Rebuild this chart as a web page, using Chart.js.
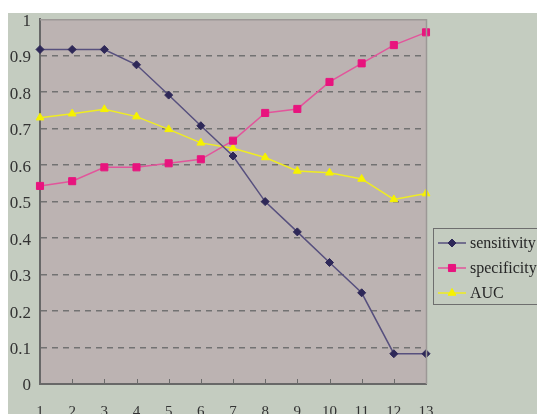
<!DOCTYPE html>
<html>
<head>
<meta charset="utf-8">
<script src="https://cdn.jsdelivr.net/npm/chart.js@4/dist/chart.umd.min.js"></script>
<style>
  html, body { margin: 0; padding: 0; background: #ffffff; }
  #wrap { width: 537px; height: 414px; position: relative; overflow: hidden; }
</style>
</head>
<body>
<div id="wrap"><canvas id="c" width="537" height="414"></canvas></div>
<script>
// Thresholds 1..13 and the three measures at each threshold
const categories = ['1','2','3','4','5','6','7','8','9','10','11','12','13'];
const sensitivity = [0.917, 0.917, 0.917, 0.875, 0.792, 0.708, 0.625, 0.500, 0.417, 0.333, 0.250, 0.083, 0.083];
const specificity = [0.543, 0.556, 0.594, 0.594, 0.605, 0.616, 0.667, 0.743, 0.754, 0.828, 0.879, 0.929, 0.964];
const auc = [0.730, 0.741, 0.753, 0.733, 0.698, 0.661, 0.646, 0.621, 0.584, 0.579, 0.562, 0.506, 0.522];
const yTicks = [0, 0.1, 0.2, 0.3, 0.4, 0.5, 0.6, 0.7, 0.8, 0.9, 1];

const SERIF = '"Liberation Serif", "DejaVu Serif", serif';
const OUTER_BG = '#c4ccc0';
const PLOT_BG = '#bcb3b2';

// Page background, plot area fill and frame
const backdrop = {
  id: 'backdrop',
  beforeDraw(chart) {
    const { ctx, chartArea: a } = chart;
    ctx.save();
    ctx.fillStyle = '#ffffff';
    ctx.fillRect(0, 0, chart.width, chart.height);
    ctx.fillStyle = OUTER_BG;
    ctx.fillRect(8, 13, chart.width - 8, chart.height - 13);
    ctx.fillStyle = PLOT_BG;
    ctx.fillRect(a.left, a.top, a.right - a.left, a.bottom - a.top);
    ctx.restore();
  },
  afterDraw(chart) {
    const { ctx, chartArea: a } = chart;
    ctx.save();
    ctx.strokeStyle = '#9c9896';
    ctx.lineWidth = 1.5;
    ctx.beginPath();
    ctx.moveTo(a.left, a.top + 0.5);
    ctx.lineTo(a.right + 0.5, a.top + 0.5);
    ctx.lineTo(a.right + 0.5, a.bottom);
    ctx.stroke();
    ctx.restore();
  }
};

// Short tick marks pointing up into the plot at each category
const innerTicks = {
  id: 'innerTicks',
  afterDatasetsDraw(chart) {
    const { ctx, scales: { x }, chartArea: a } = chart;
    ctx.save();
    ctx.strokeStyle = '#6a6a6a';
    ctx.lineWidth = 1;
    categories.forEach((c, i) => {
      if (i === 0) return;
      const px = Math.round(x.getPixelForValue(i)) + 0.5;
      ctx.beginPath();
      ctx.moveTo(px, a.bottom);
      ctx.lineTo(px, a.bottom - 5);
      ctx.stroke();
    });
    ctx.restore();
  }
};

// Boxed legend on the right: line sample with marker, then label
const sideLegend = {
  id: 'sideLegend',
  afterDraw(chart) {
    const { ctx } = chart;
    const box = { x: 433.5, y: 228.5, w: 120, h: 76 };
    ctx.save();
    ctx.strokeStyle = '#6e6e6e';
    ctx.lineWidth = 1;
    ctx.strokeRect(box.x, box.y, box.w, box.h);
    ctx.font = '16px ' + SERIF;
    ctx.textBaseline = 'middle';
    ctx.textAlign = 'left';
    chart.data.datasets.forEach((ds, i) => {
      const y = 243 + i * 25;
      ctx.strokeStyle = ds.borderColor;
      ctx.lineWidth = 1.5;
      ctx.beginPath();
      ctx.moveTo(438, y);
      ctx.lineTo(466, y);
      ctx.stroke();
      ctx.fillStyle = ds.pointBackgroundColor;
      ctx.strokeStyle = ds.pointBorderColor;
      ctx.lineWidth = 1;
      Chart.helpers.drawPoint(ctx, { pointStyle: ds.pointStyle, radius: ds.pointRadius, borderWidth: 1, rotation: 0 }, 452, y);
      ctx.fillStyle = '#262626';
      ctx.fillText(ds.label, 470, y + 1);
    });
    ctx.restore();
  }
};

new Chart(document.getElementById('c'), {
  type: 'line',
  data: {
    labels: categories,
    datasets: [
      {
        label: 'sensitivity',
        data: sensitivity,
        borderColor: '#57507e',
        borderWidth: 1.5,
        pointStyle: 'rectRot',
        pointRadius: 4,
        pointBackgroundColor: '#2e2858',
        pointBorderColor: '#2e2858',
        pointBorderWidth: 1
      },
      {
        label: 'specificity',
        data: specificity,
        borderColor: '#e2559b',
        borderWidth: 1.5,
        pointStyle: 'rect',
        pointRadius: 5,
        pointBackgroundColor: '#e8147e',
        pointBorderColor: '#e8147e',
        pointBorderWidth: 1
      },
      {
        label: 'AUC',
        data: auc,
        borderColor: '#efec22',
        borderWidth: 1.5,
        pointStyle: 'triangle',
        pointRadius: 4.5,
        pointBackgroundColor: '#f6f200',
        pointBorderColor: '#f6f200',
        pointBorderWidth: 1
      }
    ]
  },
  options: {
    responsive: false,
    animation: false,
    events: [],
    layout: { padding: { top: 19, right: 111, left: 0, bottom: 0 } },
    plugins: { legend: { display: false }, tooltip: { enabled: false } },
    scales: {
      x: {
        type: 'category',
        offset: false,
        grid: { display: false, drawTicks: false },
        border: { display: true, color: '#686868', width: 2 },
        ticks: {
          color: '#333333',
          font: { family: SERIF, size: 15 },
          padding: 19,
          maxRotation: 0,
          autoSkip: false
        },
        afterFit(scale) { scale.height = 30; }
      },
      y: {
        min: 0,
        max: 1,
        afterBuildTicks(scale) { scale.ticks = yTicks.map(v => ({ value: v })); },
        grid: {
          drawTicks: false,
          lineWidth: 1.5,
          color: ctx => (ctx.tick && (ctx.tick.value === 0 || ctx.tick.value === 1)) ? 'rgba(0,0,0,0)' : '#727272'
        },
        border: { display: true, color: '#686868', width: 2, dash: [6, 5] },
        ticks: {
          color: '#333333',
          font: { family: SERIF, size: 17 },
          padding: 9,
          labelOffset: 2,
          callback: v => String(Math.round(v * 10) / 10)
        },
        afterFit(scale) { scale.width = 40; }
      }
    }
  },
  plugins: [backdrop, innerTicks, sideLegend]
});
</script>
</body>
</html>
